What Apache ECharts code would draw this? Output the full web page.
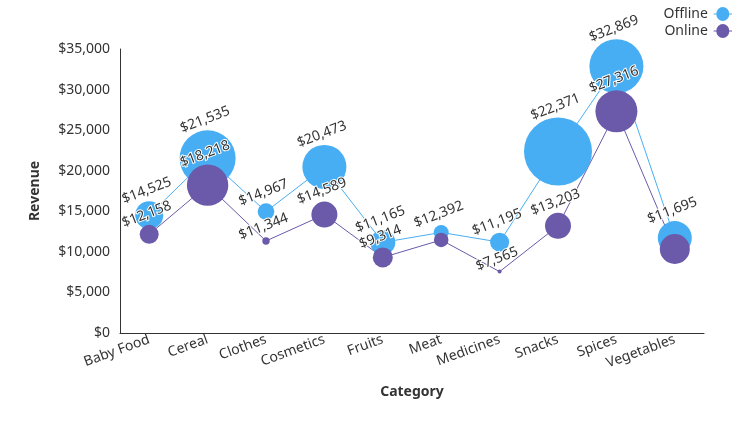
<!DOCTYPE html>
<html><head><meta charset="utf-8">
<script src="https://cdn.jsdelivr.net/npm/echarts@6/dist/echarts.min.js"></script>
<style>html,body{margin:0;padding:0;background:#fff}#c{width:750px;height:437px}</style>
</head><body><div id="c"></div>
<script>
const categories = ['Baby Food','Cereal','Clothes','Cosmetics','Fruits','Meat','Medicines','Snacks','Spices','Vegetables'];
const offlineRevenue = [14525, 21535, 14967, 20473, 11165, 12392, 11195, 22371, 32869, 11695];
const onlineRevenue  = [12158, 18218, 11344, 14589, 9314, 11466, 7565, 13203, 27316, 10350];
// bubble weight (third dimension)
const offlineUnits = [1960, 7840, 690, 4840, 1560, 560, 900, 11560, 7290, 2890];
const onlineUnits  = [900, 4280, 137, 1690, 1000, 530, 40, 1690, 4410, 2250];
const yTicks = [0, 5000, 10000, 15000, 20000, 25000, 30000, 35000];
const hiddenOnlineLabels = ['Meat', 'Vegetables'];

const FONT = 'Noto Sans';
const fmt = v => '$' + v.toLocaleString('en-US');
const sizeFn = v => 2 * Math.sqrt(v[2] / 10);
const legendIcon = 'path://M0,6.4 L3,6.4 A7,7 0 0,1 17,6.4 L20,6.4 L20,7.6 L17,7.6 A7,7 0 0,1 3,7.6 L0,7.6 Z';

function mk(name, vals, units, color, hidden) {
  return {
    name, type: 'scatter',
    data: categories.map((c, i) => ({
      value: [c, vals[i], units[i]],
      label: { show: !hidden.includes(c) }
    })),
    symbolSize: sizeFn,
    itemStyle: { color, opacity: 1 },
    label: {
      show: true, position: 'top', distance: 4, rotate: 21,
      formatter: p => fmt(p.value[1]),
      color: '#333', fontFamily: FONT, fontSize: 14,
      textBorderColor: '#fff', textBorderWidth: 2
    },
    z: name === 'Online' ? 3 : 2
  };
}
function ln(name, vals, color) {
  return {
    name, type: 'line', data: vals, symbol: 'none',
    lineStyle: { color, width: 1 }, itemStyle: { color },
    silent: true, z: 1
  };
}

const chart = echarts.init(document.getElementById('c'), null, { renderer: 'canvas' });
chart.setOption({
  animation: false,
  textStyle: { fontFamily: FONT },
  grid: { left: 120, right: 46, top: 49, bottom: 104, containLabel: false },
  legend: {
    data: [
      { name: 'Offline', icon: legendIcon },
      { name: 'Online', icon: legendIcon }
    ],
    orient: 'vertical', right: 13, top: 2, align: 'right',
    itemWidth: 20, itemHeight: 14, itemGap: 3,
    textStyle: { fontFamily: FONT, fontSize: 14, color: '#333' }
  },
  xAxis: {
    type: 'category', data: categories, boundaryGap: true,
    name: 'Category', nameLocation: 'middle', nameGap: 52,
    nameTextStyle: { fontFamily: FONT, fontSize: 14, fontWeight: 'bold', color: '#333' },
    axisLine: { lineStyle: { color: '#333' } },
    axisTick: { alignWithLabel: true, length: 5, lineStyle: { color: '#333' } },
    axisLabel: { rotate: 20, fontFamily: FONT, fontSize: 14, color: '#333', margin: 6, interval: 0 }
  },
  yAxis: {
    type: 'value', min: 0, max: 35000, interval: 5000,
    name: 'Revenue', nameLocation: 'middle', nameGap: 78,
    nameTextStyle: { fontFamily: FONT, fontSize: 14, fontWeight: 'bold', color: '#333' },
    axisLine: { show: true, lineStyle: { color: '#333' } },
    axisTick: { show: false },
    splitLine: { show: false },
    axisLabel: { formatter: v => yTicks.includes(v) ? fmt(v) : '', fontFamily: FONT, fontSize: 14, color: '#333', margin: 10 }
  },
  series: [
    ln('Offline', offlineRevenue, '#48AEF3'),
    ln('Online', onlineRevenue, '#6B59AA'),
    mk('Offline', offlineRevenue, offlineUnits, '#48AEF3', []),
    mk('Online', onlineRevenue, onlineUnits, '#6B59AA', hiddenOnlineLabels)
  ]
});
</script></body></html>
